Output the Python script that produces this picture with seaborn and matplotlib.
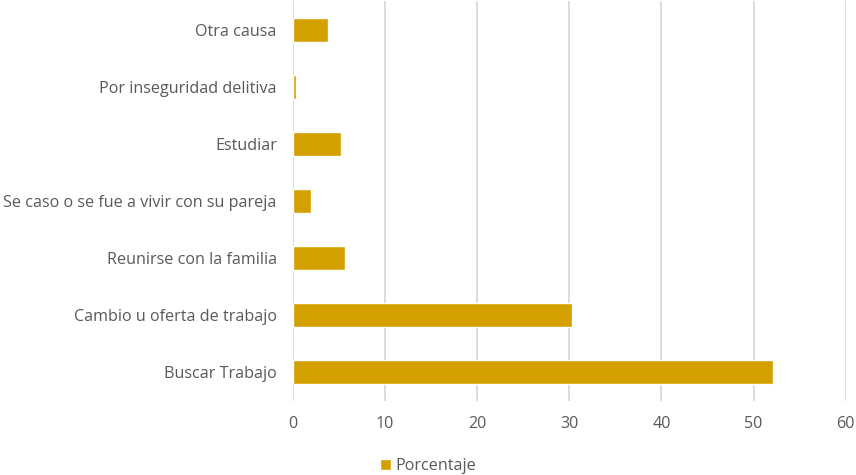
import pandas as pd
import seaborn as sns
import matplotlib.pyplot as plt

# categories top to bottom, as in the chart
motivos = ['Otra causa', 'Por inseguridad delitiva', 'Estudiar',
           'Se caso o se fue a vivir con su pareja', 'Reunirse con la familia',
           'Cambio u oferta de trabajo', 'Buscar Trabajo']
porcentaje = [3.8, 0.4, 5.2, 2.0, 5.7, 30.3, 52.1]
ticks = [0, 10, 20, 30, 40, 50, 60]

data = pd.DataFrame({'Motivo': motivos, 'Porcentaje': porcentaje})

sns.set_theme(style='white')
plt.rcParams['font.family'] = ['Open Sans', 'DejaVu Sans']

fig = plt.figure(figsize=(8.56, 4.75), dpi=100)
ax = fig.add_axes([0.342, 0.156, 0.646, 0.841])

sns.barplot(data=data, x='Porcentaje', y='Motivo', orient='h', order=motivos,
            color='#D4A000', saturation=1, width=0.42, label='Porcentaje', ax=ax)

ax.set_xlim(0, 60)
ax.set_xticks(ticks)
ax.xaxis.grid(True, color='#D9D9D9', linewidth=1.3)
ax.set_axisbelow(True)
for s in ax.spines.values():
    s.set_visible(False)
ax.set_xlabel('')
ax.set_ylabel('')
ax.tick_params(axis='both', length=0, labelsize=11.6, colors='#595959')
ax.tick_params(axis='y', pad=11.5)
ax.tick_params(axis='x', pad=11)

if ax.legend_:
    ax.legend_.remove()
fig.legend(*ax.get_legend_handles_labels(), loc='lower center', bbox_to_anchor=(0.5, -0.028),
           frameon=False, fontsize=11.6, handlelength=0.7, handleheight=0.7,
           handletextpad=0.3, labelcolor='#595959')

fig.savefig('out.png', dpi=100)
